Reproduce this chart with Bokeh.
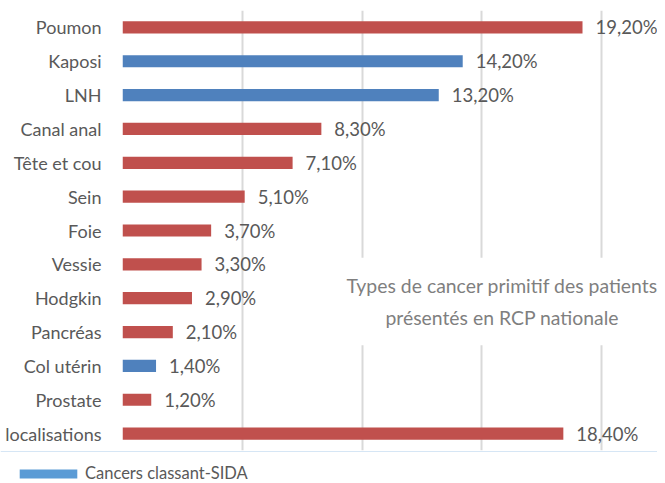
from bokeh.plotting import figure
from bokeh.layouts import column
from bokeh.models import (ColumnDataSource, FactorRange, Range1d, FixedTicker,
                          Label, Legend, LegendItem)
from bokeh.core.properties import value
from bokeh.embed import file_html
from bokeh.resources import INLINE

categories = ["Poumon", "Kaposi", "LNH", "Canal anal", "Tête et cou", "Sein",
              "Foie", "Vessie", "Hodgkin", "Pancréas", "Col utérin", "Prostate",
              "localisations"]
values = [19.2, 14.2, 13.2, 8.3, 7.1, 5.1, 3.7, 3.3, 2.9, 2.1, 1.4, 1.2, 18.4]
sida = [False, True, True, False, False, False, False, False, False, False,
        True, False, False]
value_labels = ["19,20%", "14,20%", "13,20%", "8,30%", "7,10%", "5,10%",
                "3,70%", "3,30%", "2,90%", "2,10%", "1,40%", "1,20%", "18,40%"]
grid_ticks = [0, 5, 10, 15, 20]
legend_label = "Cancers classant-SIDA"
title_text = "Types de cancer primitif des patients\nprésentés en RCP nationale"

RED = "#C0504D"
BLUE = "#4F81BD"
LEG_BLUE = "#5B9BD5"
TXT = "#595959"
FONT = "Lato"

red_src = ColumnDataSource(dict(
    y=[c for c, s in zip(categories, sida) if not s],
    x=[v for v, s in zip(values, sida) if not s]))
blue_src = ColumnDataSource(dict(
    y=[c for c, s in zip(categories, sida) if s],
    x=[v for v, s in zip(values, sida) if s]))
lab_src = ColumnDataSource(dict(y=categories, x=values, t=value_labels))

p = figure(width=657, height=451, output_backend="svg", toolbar_location=None,
           y_range=FactorRange(*reversed(categories), range_padding=0),
           x_range=Range1d(0, 22.33),
           min_border_left=122, min_border_right=0, min_border_top=10,
           min_border_bottom=1)
p.outline_line_color = None
p.background_fill_color = "white"
p.border_fill_color = "white"

p.xaxis.visible = False
p.xgrid.ticker = FixedTicker(ticks=grid_ticks)
p.xgrid.grid_line_color = "#D9D9D9"
p.xgrid.grid_line_width = 2
p.ygrid.grid_line_color = None

ax = p.yaxis[0]
ax.axis_line_color = None
ax.major_tick_line_color = None
ax.minor_tick_line_color = None
ax.major_label_standoff = 15
ax.major_label_text_font = FONT
ax.major_label_text_font_size = "18px"
ax.major_label_text_color = TXT

r_red = p.hbar(y="y", right="x", left=0, height=0.36, source=red_src,
               fill_color=RED, line_color=None)
r_blue = p.hbar(y="y", right="x", left=0, height=0.36, source=blue_src,
                fill_color=BLUE, line_color=None)

p.text(x="x", y="y", text="t", source=lab_src, x_offset=13,
       text_align="left", text_baseline="middle",
       text_font=value(FONT), text_font_size="18.5px", text_color=TXT)

p.add_layout(Label(x=15.85, y=149, y_units="screen", text=title_text,
                   text_align="center", text_baseline="middle",
                   text_font=FONT, text_font_size="19.4px", text_color="#7F7F7F",
                   text_line_height=1.42,
                   background_fill_color="white",
                   padding=dict(left=4, right=4, top=16, bottom=16)))

# legend strip below the chart
p2 = figure(width=657, height=32, output_backend="svg", toolbar_location=None,
            x_range=Range1d(0, 1), y_range=Range1d(0, 1),
            min_border_left=0, min_border_right=0, min_border_top=0,
            min_border_bottom=0)
p2.axis.visible = False
p2.grid.visible = False
p2.outline_line_color = None
p2.background_fill_color = "white"
p2.border_fill_color = "white"
r_leg = p2.hbar(y=[5], right=[1], left=0, height=0.5, fill_color=LEG_BLUE,
                line_color=None)
legend = Legend(items=[LegendItem(label=legend_label, renderers=[r_leg])],
                location=(12, 0), orientation="horizontal",
                glyph_width=72, glyph_height=11, label_standoff=1,
                padding=0, margin=0, spacing=0,
                border_line_color=None, background_fill_alpha=0,
                label_text_font=FONT, label_text_font_size="16.5px",
                label_text_color=TXT)
p2.add_layout(legend, "center")

for fig in (p, p2):
    if "frame_align" in fig.properties():
        fig.frame_align = False

layout = column(p, p2, spacing=0)
open("out.html", "w").write(file_html(layout, INLINE))
